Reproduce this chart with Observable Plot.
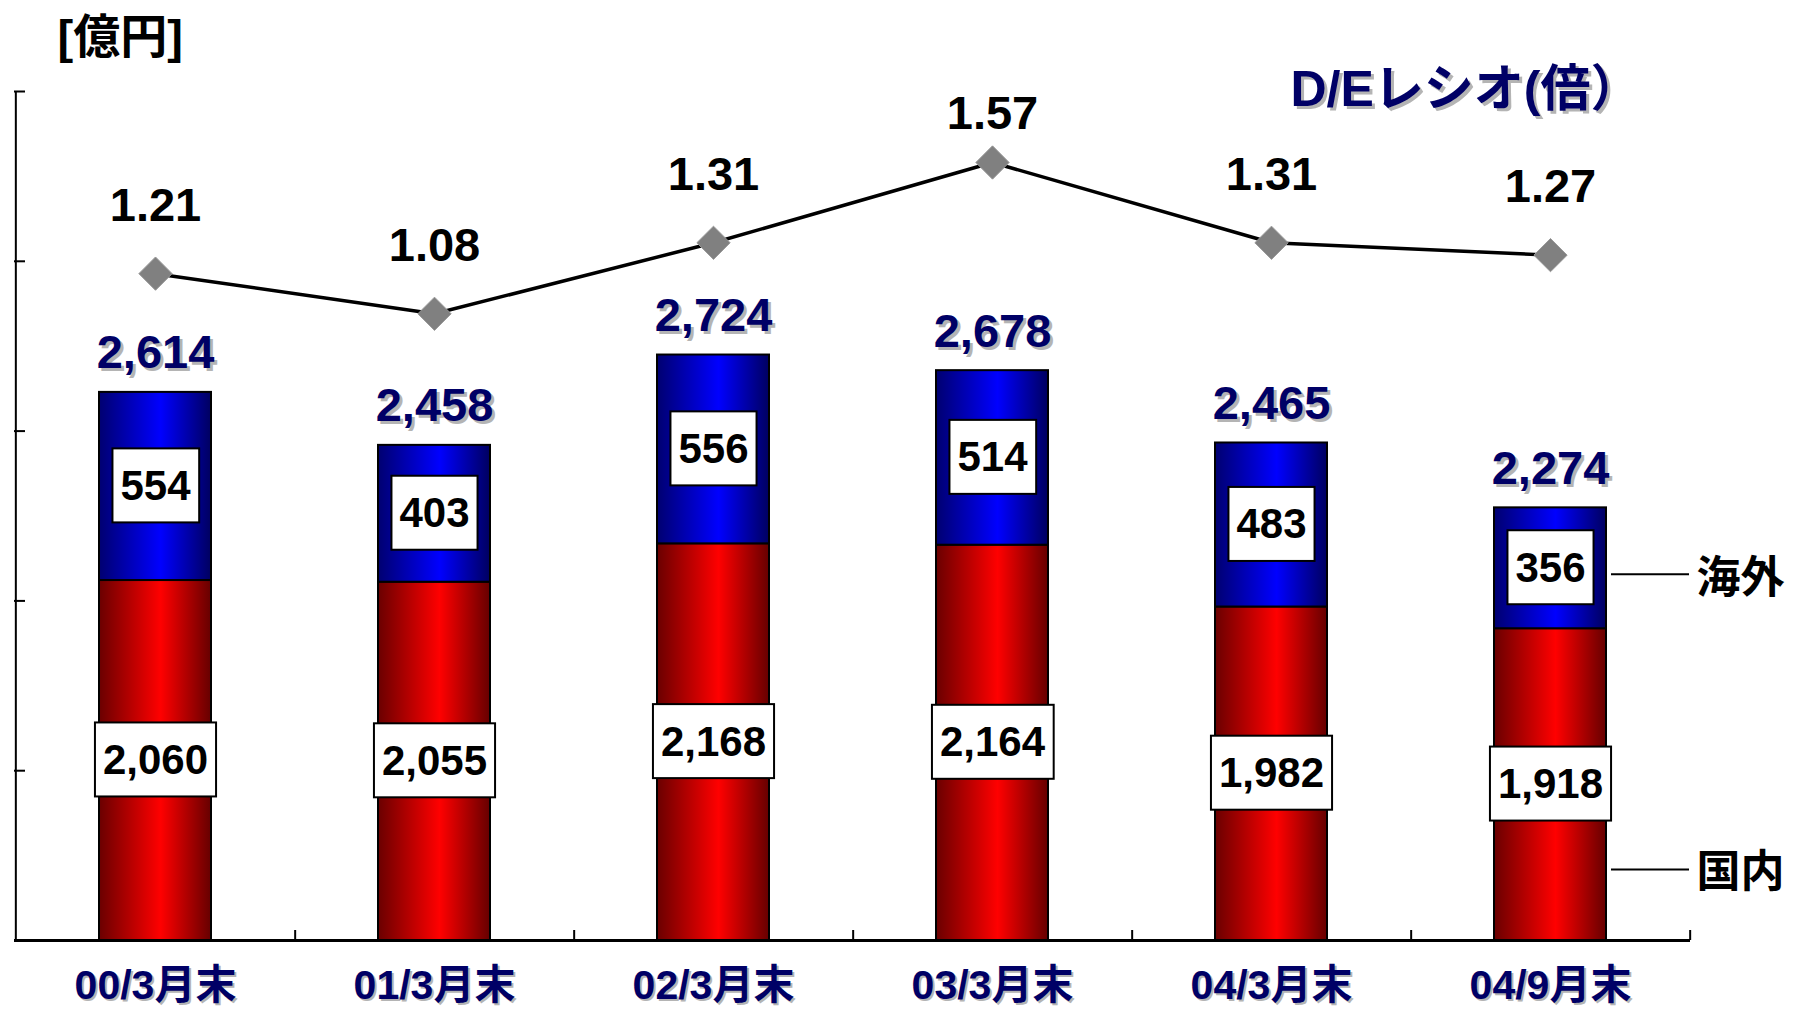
<!DOCTYPE html>
<html><head><meta charset="utf-8">
<script src="https://cdn.jsdelivr.net/npm/d3@7"></script>
<script src="https://cdn.jsdelivr.net/npm/@observablehq/plot@0.6"></script>
<style>html,body{margin:0;padding:0;background:#fff;overflow:hidden}</style>
</head><body><div id="chart"></div>
<script>
// ---- data ----
const periods = ["00/3月末", "01/3月末", "02/3月末", "03/3月末", "04/3月末", "04/9月末"];
const domestic = [2060, 2055, 2168, 2164, 1982, 1918];   // 国内
const overseas = [554, 403, 556, 514, 483, 356];          // 海外
const deRatio = [1.21, 1.08, 1.31, 1.57, 1.31, 1.27];     // D/Eレシオ(倍)
const yTicks = [1000, 1500, 2000, 2500, 3000, 3500];
const unitLabel = "[億円]";
const ratioLabel = "D/Eレシオ(倍）";
const seriesLabels = ["海外", "国内"];

// ---- layout ----
const W = 1793, H = 1013, mL = 14, mR = 103, mT = 91, mB = 73;
const frameW = W - mL - mR, frameH = H - mT - mB;
const step = frameW / periods.length;
const yDomain = [1000, 3500];
const ratioDomain = [-0.95, 1.8];
const ratioToY = d3.scaleLinear(ratioDomain, yDomain);
const navy = "#000066", shadow = "#b4b4b4";
const font = "'Liberation Sans', Arial, 'Noto Sans CJK JP', sans-serif";
const fmt = d3.format(","), fmt2 = d3.format(".2f");

const data = periods.map((p, i) => ({
  period: p, domestic: domestic[i], overseas: overseas[i],
  total: domestic[i] + overseas[i], ratio: deRatio[i]
}));
const last = data[data.length - 1];
const maxRatio = d3.max(deRatio);

function gradients() {
  const ns = "http://www.w3.org/2000/svg";
  const defs = document.createElementNS(ns, "defs");
  const mk = (id, stops) => {
    const g = document.createElementNS(ns, "linearGradient");
    g.setAttribute("id", id);
    g.setAttribute("x1", "0"); g.setAttribute("y1", "0");
    g.setAttribute("x2", "1"); g.setAttribute("y2", "0");
    for (const [o, c] of stops) {
      const s = document.createElementNS(ns, "stop");
      s.setAttribute("offset", o); s.setAttribute("stop-color", c);
      g.appendChild(s);
    }
    defs.appendChild(g);
  };
  mk("gradRed", [[0, "#6a0000"], [0.55, "#ff0000"], [1, "#660000"]]);
  mk("gradBlue", [[0, "#000070"], [0.55, "#0000ff"], [1, "#000060"]]);
  return defs;
}

const chart = Plot.plot({
  width: W, height: H,
  marginLeft: mL, marginRight: mR, marginTop: mT, marginBottom: mB,
  style: {background: "white", fontFamily: font},
  x: {domain: periods, paddingInner: 0.6, paddingOuter: 0.3, align: 0.5, axis: null},
  y: {domain: yDomain, axis: null},
  marks: [
    gradients,
    // bars
    Plot.barY(data, {x: "period", y: "domestic", fill: "url(#gradRed)", stroke: "black", strokeWidth: 2, clip: true}),
    Plot.barY(data, {x: "period", y1: "domestic", y2: "total", fill: "url(#gradBlue)", stroke: "black", strokeWidth: 2, clip: true}),
    // y axis line and ticks
    Plot.ruleX([periods[0]], {dx: -step / 2, stroke: "black", strokeWidth: 2}),
    Plot.ruleY(yTicks, {stroke: "black", strokeWidth: 2, insetRight: frameW - 11}),
    // baseline & x ticks at band boundaries
    Plot.ruleY([yDomain[0]], {stroke: "black", strokeWidth: 3}),
    Plot.ruleX(periods, {dx: step / 2, insetTop: frameH - 10, stroke: "black", strokeWidth: 2}),
    // D/E ratio line
    Plot.line(data, {x: "period", y: d => ratioToY(d.ratio), stroke: "black", strokeWidth: 3.5}),
    Plot.dot(data, {x: "period", y: d => ratioToY(d.ratio), symbol: "diamond2", r: 15, fill: "#808080", stroke: "#999999", strokeWidth: 1}),
    Plot.text(data, {filter: d => d.ratio < maxRatio, x: "period", y: d => ratioToY(d.ratio), text: d => fmt2(d.ratio), dy: -68, fontSize: 47, fontWeight: "bold", fill: "black"}),
    Plot.text(data, {filter: d => d.ratio === maxRatio, x: "period", y: d => ratioToY(d.ratio), text: d => fmt2(d.ratio), dy: -49, fontSize: 47, fontWeight: "bold", fill: "black"}),
    // totals
    Plot.text(data, {x: "period", y: "total", text: d => fmt(d.total), dx: 3, dy: -36, fontSize: 47, fontWeight: "bold", fill: shadow}),
    Plot.text(data, {x: "period", y: "total", text: d => fmt(d.total), dy: -39, fontSize: 47, fontWeight: "bold", fill: navy}),
    // inner values
    Plot.text(data, {x: "period", y: d => (d.domestic + d.total) / 2, text: d => fmt(d.overseas), fontSize: 42, fontWeight: "bold", fill: "black", ariaDescription: "inner-values"}),
    Plot.text(data, {x: "period", y: d => (yDomain[0] + d.domestic) / 2, text: d => fmt(d.domestic), fontSize: 42, fontWeight: "bold", fill: "black", ariaDescription: "inner-values"}),
    // x labels
    Plot.text(periods, {x: d => d, frameAnchor: "bottom", lineAnchor: "middle", dx: 2, dy: 47, fontSize: 41, fontWeight: "bold", fill: shadow}),
    Plot.text(periods, {x: d => d, frameAnchor: "bottom", lineAnchor: "middle", dy: 45, fontSize: 41, fontWeight: "bold", fill: navy}),
    // series annotations
    Plot.tickY([last], {x: "period", y: d => (d.domestic + d.total) / 2, dx: 117, dy: 6, insetRight: 34, stroke: "black", strokeWidth: 2}),
    Plot.text([last], {x: "period", y: d => (d.domestic + d.total) / 2, text: () => seriesLabels[0], dx: 146, dy: 11, textAnchor: "start", fontSize: 44, fontWeight: "bold", fill: "black"}),
    Plot.tickY([last], {x: "period", y: yDomain[0], dx: 117, dy: -71, insetRight: 34, stroke: "black", strokeWidth: 2}),
    Plot.text([last], {x: "period", y: yDomain[0], text: () => seriesLabels[1], dx: 146, dy: -68, textAnchor: "start", fontSize: 44, fontWeight: "bold", fill: "black"}),
    // titles
    Plot.text([unitLabel], {frameAnchor: "top-left", lineAnchor: "middle", dx: 43, dy: -54, textAnchor: "start", fontSize: 47, fontWeight: "bold", fill: "black"}),
    Plot.text([ratioLabel], {frameAnchor: "top-right", lineAnchor: "middle", dx: -47, dy: 1, textAnchor: "end", fontSize: 50, fontWeight: "bold", fill: shadow}),
    Plot.text([ratioLabel], {frameAnchor: "top-right", lineAnchor: "middle", dx: -50, dy: -2, textAnchor: "end", fontSize: 50, fontWeight: "bold", fill: navy})
  ]
});

document.getElementById("chart").append(chart);

// white label boxes behind the in-bar values
const ns = "http://www.w3.org/2000/svg";
chart.querySelectorAll('g[aria-description="inner-values"] text').forEach(t => {
  const b = t.getBBox();
  const cy = b.y + b.height / 2;
  const r = document.createElementNS(ns, "rect");
  r.setAttribute("x", b.x - 8);
  r.setAttribute("y", cy - 37);
  r.setAttribute("width", b.width + 16);
  r.setAttribute("height", 74);
  r.setAttribute("fill", "white");
  r.setAttribute("stroke", "black");
  r.setAttribute("stroke-width", 2);
  const tr = t.getAttribute("transform");
  if (tr) r.setAttribute("transform", tr);
  t.parentNode.insertBefore(r, t);
});
</script>
</body></html>
